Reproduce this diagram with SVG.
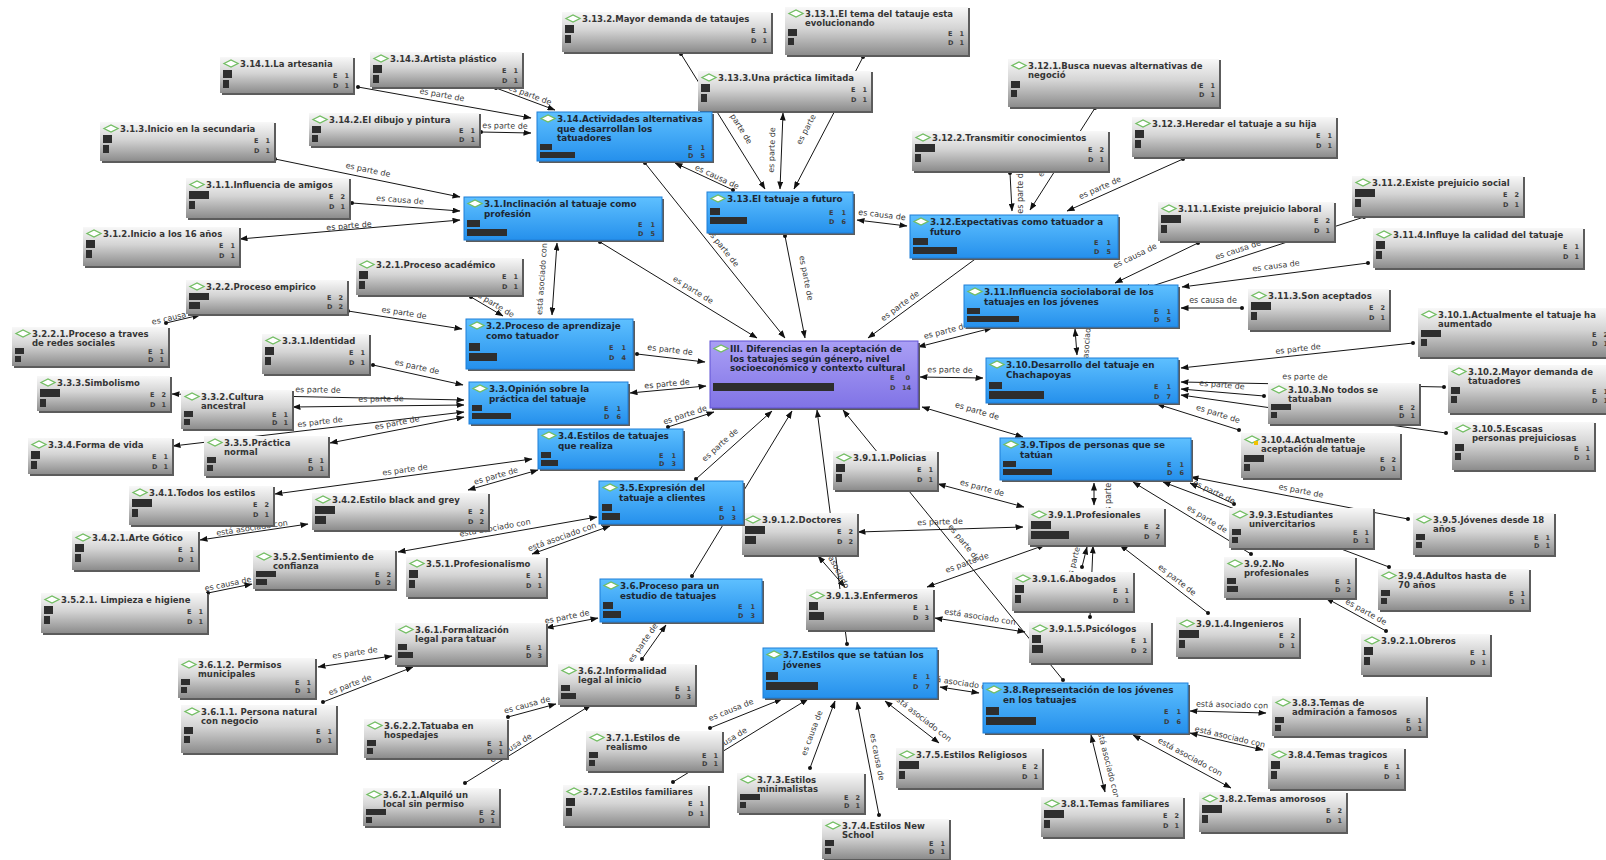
<svg xmlns="http://www.w3.org/2000/svg" width="1606" height="860" viewBox="0 0 1606 860">
<defs>
<linearGradient id="gg" x1="0" y1="0" x2="0" y2="1"><stop offset="0" stop-color="#f8f8f8"/><stop offset="0.45" stop-color="#d4d4d4"/><stop offset="1" stop-color="#8c8c8c"/></linearGradient>
<linearGradient id="bgr" x1="0" y1="0" x2="0" y2="1"><stop offset="0" stop-color="#5ec0ff"/><stop offset="1" stop-color="#2590ec"/></linearGradient>
<linearGradient id="pgr" x1="0" y1="0" x2="0" y2="1"><stop offset="0" stop-color="#aa9ff5"/><stop offset="1" stop-color="#8073e6"/></linearGradient>
<marker id="ar" viewBox="0 0 8 6" refX="7.5" refY="3" markerWidth="8" markerHeight="6" markerUnits="userSpaceOnUse" orient="auto-start-reverse"><path d="M0,0 L8,3 L0,6 z" fill="#111"/></marker>
<marker id="dt" viewBox="0 0 4 4" refX="2" refY="2" markerWidth="4" markerHeight="4" markerUnits="userSpaceOnUse"><circle cx="2" cy="2" r="2" fill="#111"/></marker>
<path id="dmd" class="dm" d="M4,6.5L11,3L18,6.5L11,10Z"/>
</defs>
<style>
.sh{fill:#5c5c5c}
.g{fill:url(#gg)}
.b{fill:url(#bgr);stroke:#1f7fd8;stroke-width:1}
.p{fill:url(#pgr);stroke:#6152d4;stroke-width:1}
.dm{fill:#fff;stroke:#72bd62;stroke-width:1.3}
.t{font-family:"DejaVu Sans","Liberation Sans",sans-serif;font-weight:bold;font-size:8.5px;fill:#353535}
.tb{font-size:8.8px;fill:#1d2733}
.bar{fill:#2e2e2e}
.ed{font-family:"DejaVu Sans","Liberation Sans",sans-serif;font-weight:bold;font-size:6.5px;fill:#3c3c3c}
.n{text-anchor:end}
.e{fill:none;stroke:#151515;stroke-width:1}
.da{marker-start:url(#dt);marker-end:url(#ar)}
.aa{marker-start:url(#ar);marker-end:url(#ar)}
.ad{marker-start:url(#ar);marker-end:url(#dt)}
.l{font-family:"DejaVu Sans","Liberation Sans",sans-serif;font-size:8px;fill:#3a3a3a;text-anchor:middle}
</style>
<rect width="1606" height="860" fill="#fff"/>
<g id="connectors">
<path class="e da" d="M358,87 L531,118"/>
<path class="e da" d="M496,88 L555,110"/>
<path class="e da" d="M481,132 L531,133"/>
<path class="e da" d="M733,190 L675,163"/>
<path class="e da" d="M645,163 L785,338"/>
<path class="e da" d="M681,54 L765,189"/>
<path class="e aa" d="M783,113 L780,189"/>
<path class="e da" d="M863,57 L794,189"/>
<path class="e da" d="M785,236 L805,338"/>
<path class="e aa" d="M857,220 L907,226"/>
<path class="e da" d="M600,242 L757,338"/>
<path class="e da" d="M275,159 L460,197"/>
<path class="e da" d="M352,203 L460,211"/>
<path class="e aa" d="M460,220 L240,239"/>
<path class="e aa" d="M557,243 L552,315"/>
<path class="e da" d="M471,297 L503,316"/>
<path class="e da" d="M348,311 L462,329"/>
<path class="e da" d="M166,323 L200,315"/>
<path class="e da" d="M373,365 L463,385"/>
<path class="e aa" d="M464,400 L172,394"/>
<path class="e aa" d="M464,405 L293,407"/>
<path class="e aa" d="M464,412 L173,446"/>
<path class="e aa" d="M464,417 L330,443"/>
<path class="e aa" d="M630,393 L706,386"/>
<path class="e da" d="M637,354 L705,362"/>
<path class="e aa" d="M275,494 L532,459"/>
<path class="e aa" d="M468,490 L538,470"/>
<path class="e aa" d="M200,540 L308,524"/>
<path class="e da" d="M668,427 L714,412"/>
<path class="e da" d="M696,479 L772,411"/>
<path class="e da" d="M692,576 L792,411"/>
<path class="e aa" d="M398,552 L597,517"/>
<path class="e aa" d="M532,554 L610,526"/>
<path class="e da" d="M208,593 L252,584"/>
<path class="e aa" d="M546,628 L598,618"/>
<path class="e da" d="M642,659 L666,625"/>
<path class="e aa" d="M318,667 L392,656"/>
<path class="e da" d="M323,702 L413,667"/>
<path class="e da" d="M508,717 L556,704"/>
<path class="e da" d="M465,783 L591,705"/>
<path class="e da" d="M710,728 L782,699"/>
<path class="e da" d="M673,782 L808,699"/>
<path class="e da" d="M810,768 L835,701"/>
<path class="e da" d="M879,815 L857,702"/>
<path class="e aa" d="M939,743 L885,701"/>
<path class="e aa" d="M940,687 L979,693"/>
<path class="e da" d="M847,644 L817,410"/>
<path class="e da" d="M1063,680 L843,410"/>
<path class="e aa" d="M1105,792 L1091,735"/>
<path class="e aa" d="M1231,788 L1133,735"/>
<path class="e aa" d="M1263,750 L1190,733"/>
<path class="e aa" d="M1266,713 L1190,711"/>
<path class="e aa" d="M922,407 L1023,437"/>
<path class="e aa" d="M1094,505 L1094,483"/>
<path class="e aa" d="M938,484 L1024,507"/>
<path class="e aa" d="M858,532 L1023,527"/>
<path class="e aa" d="M927,587 L1045,545"/>
<path class="e da" d="M1082,567 L1087,547"/>
<path class="e da" d="M1090,617 L1093,546"/>
<path class="e ad" d="M1120,545 L1208,613"/>
<path class="e ad" d="M1133,482 L1251,554"/>
<path class="e ad" d="M1190,483 L1234,504"/>
<path class="e ad" d="M1163,482 L1389,567"/>
<path class="e ad" d="M1191,477 L1408,519"/>
<path class="e ad" d="M1326,598 L1386,631"/>
<path class="e aa" d="M920,377 L983,378"/>
<path class="e aa" d="M1075,329 L1077,355"/>
<path class="e ad" d="M1181,368 L1413,343"/>
<path class="e ad" d="M1181,382 L1444,387"/>
<path class="e ad" d="M1181,389 L1264,396"/>
<path class="e ad" d="M1181,395 L1446,433"/>
<path class="e ad" d="M1157,404 L1239,430"/>
<path class="e aa" d="M918,347 L992,328"/>
<path class="e ad" d="M1181,308 L1242,308"/>
<path class="e da" d="M1198,243 L1115,283"/>
<path class="e da" d="M1364,217 L1143,289"/>
<path class="e da" d="M1368,263 L1182,287"/>
<path class="e ad" d="M868,338 L978,257"/>
<path class="e da" d="M1010,173 L1012,211"/>
<path class="e da" d="M1095,108 L1030,210"/>
<path class="e da" d="M1183,159 L1067,211"/>
<path class="e aa" d="M818,556 L845,587"/>
<path class="e aa" d="M935,618 L1025,632"/>
<g id="connector-labels">
<text class="l" transform="translate(442,95) rotate(10.2)" y="2.5">es parte de</text>
<text class="l" transform="translate(530,95) rotate(20.4)" y="2.5">es parte de</text>
<text class="l" transform="translate(505,126) rotate(1.1)" y="2.5">es parte de</text>
<text class="l" transform="translate(717,177) rotate(25)" y="2.5">es causa de</text>
<text class="l" transform="translate(723,248) rotate(51.3)" y="2.5">es parte de</text>
<text class="l" transform="translate(738,124) rotate(58)" y="2.5">es parte de</text>
<text class="l" transform="translate(772,150) rotate(-88)" y="2.5">es parte de</text>
<text class="l" transform="translate(809,124) rotate(-62.4)" y="2.5">es parte de</text>
<text class="l" transform="translate(806,278) rotate(78.9)" y="2.5">es parte de</text>
<text class="l" transform="translate(882,215) rotate(6.8)" y="2.5">es causa de</text>
<text class="l" transform="translate(693,290) rotate(31.4)" y="2.5">es parte de</text>
<text class="l" transform="translate(368,170) rotate(11.6)" y="2.5">es parte de</text>
<text class="l" transform="translate(400,200) rotate(4.2)" y="2.5">es causa de</text>
<text class="l" transform="translate(349,226) rotate(-4.9)" y="2.5">es parte de</text>
<text class="l" transform="translate(542,279) rotate(-86)" y="2.5">está asociado con</text>
<text class="l" transform="translate(494,304) rotate(30.7)" y="2.5">es parte de</text>
<text class="l" transform="translate(404,313) rotate(9)" y="2.5">es parte de</text>
<text class="l" transform="translate(175,317) rotate(-13)" y="2.5">es causa de</text>
<text class="l" transform="translate(417,367) rotate(12.5)" y="2.5">es parte de</text>
<text class="l" transform="translate(318,390) rotate(1.2)" y="2.5">es parte de</text>
<text class="l" transform="translate(381,399) rotate(-0.7)" y="2.5">es parte de</text>
<text class="l" transform="translate(320,422) rotate(-6.7)" y="2.5">es parte de</text>
<text class="l" transform="translate(397,423) rotate(-11)" y="2.5">es parte de</text>
<text class="l" transform="translate(667,384) rotate(-5.3)" y="2.5">es parte de</text>
<text class="l" transform="translate(670,350) rotate(6.7)" y="2.5">es parte de</text>
<text class="l" transform="translate(405,470) rotate(-7.8)" y="2.5">es parte de</text>
<text class="l" transform="translate(496,476) rotate(-16)" y="2.5">es parte de</text>
<text class="l" transform="translate(252,528) rotate(-8.4)" y="2.5">está asociado con</text>
<text class="l" transform="translate(685,415) rotate(-18)" y="2.5">es parte de</text>
<text class="l" transform="translate(720,445) rotate(-41.8)" y="2.5">es parte de</text>
<text class="l" transform="translate(495,528) rotate(-10)" y="2.5">está asociado con</text>
<text class="l" transform="translate(562,537) rotate(-19.7)" y="2.5">está asociado con</text>
<text class="l" transform="translate(228,584) rotate(-11.6)" y="2.5">es causa de</text>
<text class="l" transform="translate(567,617) rotate(-10.9)" y="2.5">es parte de</text>
<text class="l" transform="translate(643,643) rotate(-54.8)" y="2.5">es parte de</text>
<text class="l" transform="translate(355,653) rotate(-8.5)" y="2.5">es parte de</text>
<text class="l" transform="translate(350,685) rotate(-21)" y="2.5">es parte de</text>
<text class="l" transform="translate(527,705) rotate(-15)" y="2.5">es causa de</text>
<text class="l" transform="translate(511,748) rotate(-31.8)" y="2.5">es causa de</text>
<text class="l" transform="translate(731,710) rotate(-22)" y="2.5">es causa de</text>
<text class="l" transform="translate(726,742) rotate(-31.6)" y="2.5">es causa de</text>
<text class="l" transform="translate(812,733) rotate(-69.5)" y="2.5">es causa de</text>
<text class="l" transform="translate(877,757) rotate(79)" y="2.5">es causa de</text>
<text class="l" transform="translate(922,718) rotate(37.9)" y="2.5">está asociado con</text>
<text class="l" transform="translate(960,683) rotate(8.7)" y="2.5">está asociado con</text>
<text class="l" transform="translate(964,543) rotate(50.8)" y="2.5">es parte de</text>
<text class="l" transform="translate(1108,763) rotate(76)" y="2.5">está asociado con</text>
<text class="l" transform="translate(1190,757) rotate(28.4)" y="2.5">está asociado con</text>
<text class="l" transform="translate(1230,737) rotate(13)" y="2.5">está asociado con</text>
<text class="l" transform="translate(1232,705) rotate(1.5)" y="2.5">está asociado con</text>
<text class="l" transform="translate(977,411) rotate(16.5)" y="2.5">es parte de</text>
<text class="l" transform="translate(1108,493) rotate(-90)" y="2.5">es parte de</text>
<text class="l" transform="translate(982,488) rotate(15)" y="2.5">es parte de</text>
<text class="l" transform="translate(940,522) rotate(-1.7)" y="2.5">es parte de</text>
<text class="l" transform="translate(967,563) rotate(-19.6)" y="2.5">es parte de</text>
<text class="l" transform="translate(1075,557) rotate(-76)" y="2.5">es parte de</text>
<text class="l" transform="translate(1177,580) rotate(37.7)" y="2.5">es parte de</text>
<text class="l" transform="translate(1207,519) rotate(31.4)" y="2.5">es parte de</text>
<text class="l" transform="translate(1214,492) rotate(25.5)" y="2.5">es parte de</text>
<text class="l" transform="translate(1301,491) rotate(11)" y="2.5">es parte de</text>
<text class="l" transform="translate(1366,612) rotate(28.8)" y="2.5">es parte de</text>
<text class="l" transform="translate(950,370) rotate(0.9)" y="2.5">es parte de</text>
<text class="l" transform="translate(1087,342) rotate(-86)" y="2.5">está asociado con</text>
<text class="l" transform="translate(1298,349) rotate(-6.2)" y="2.5">es parte de</text>
<text class="l" transform="translate(1305,377) rotate(1.1)" y="2.5">es parte de</text>
<text class="l" transform="translate(1222,385) rotate(4.8)" y="2.5">es parte de</text>
<text class="l" transform="translate(1218,414) rotate(17.6)" y="2.5">es parte de</text>
<text class="l" transform="translate(946,331) rotate(-14.4)" y="2.5">es parte de</text>
<text class="l" transform="translate(1213,300)" y="2.5">es causa de</text>
<text class="l" transform="translate(1135,256) rotate(-25.7)" y="2.5">es causa de</text>
<text class="l" transform="translate(1238,250) rotate(-18)" y="2.5">es causa de</text>
<text class="l" transform="translate(1276,266) rotate(-7.4)" y="2.5">es causa de</text>
<text class="l" transform="translate(900,306) rotate(-36.4)" y="2.5">es parte de</text>
<text class="l" transform="translate(1020,191) rotate(-90)" y="2.5">es parte de</text>
<text class="l" transform="translate(1052,157) rotate(-57.5)" y="2.5">es parte de</text>
<text class="l" transform="translate(1100,188) rotate(-24)" y="2.5">es parte de</text>
<text class="l" transform="translate(838,571) rotate(62)" y="2.5">está asociado con</text>
<text class="l" transform="translate(980,617) rotate(8.8)" y="2.5">está asociado con</text>
</g>
</g>

<g id="n3-14-1" transform="translate(220,57)"><rect class="sh" x="2" y="1" width="133" height="37"/><rect class="g" width="133" height="36"/><use href="#dmd"/><text class="t" x="20" y="10">3.14.1.La artesania</text><rect class="bar" x="3" y="13" width="9" height="8"/><rect class="bar" x="3" y="23" width="6" height="8"/><text class="ed" x="113" y="20.5">E</text><text class="ed n" x="129" y="20.5">1</text><text class="ed" x="113" y="30.5">D</text><text class="ed n" x="129" y="30.5">1</text></g>
<g id="n3-14-3" transform="translate(370,52)"><rect class="sh" x="2" y="1" width="152" height="36"/><rect class="g" width="152" height="35"/><use href="#dmd"/><text class="t" x="20" y="10">3.14.3.Artista plástico</text><rect class="bar" x="3" y="13" width="9" height="8"/><rect class="bar" x="3" y="23" width="6" height="8"/><text class="ed" x="132" y="20.5">E</text><text class="ed n" x="148" y="20.5">1</text><text class="ed" x="132" y="30.5">D</text><text class="ed n" x="148" y="30.5">1</text></g>
<g id="n3-14-2" transform="translate(309,113)"><rect class="sh" x="2" y="1" width="170" height="34"/><rect class="g" width="170" height="33"/><use href="#dmd"/><text class="t" x="20" y="10">3.14.2.El dibujo y pintura</text><rect class="bar" x="3" y="13" width="9" height="7"/><rect class="bar" x="3" y="22" width="6" height="7"/><text class="ed" x="150" y="19.5">E</text><text class="ed n" x="166" y="19.5">1</text><text class="ed" x="150" y="28.5">D</text><text class="ed n" x="166" y="28.5">1</text></g>
<g id="n3-13-2" transform="translate(562,12)"><rect class="sh" x="2" y="1" width="209" height="41"/><rect class="g" width="209" height="40"/><use href="#dmd"/><text class="t" x="20" y="10">3.13.2.Mayor demanda de tataujes</text><rect class="bar" x="3" y="13" width="9" height="8"/><rect class="bar" x="3" y="23" width="6" height="8"/><text class="ed" x="189" y="20.5">E</text><text class="ed n" x="205" y="20.5">1</text><text class="ed" x="189" y="30.5">D</text><text class="ed n" x="205" y="30.5">1</text></g>
<g id="n3-13-1" transform="translate(785,7)"><rect class="sh" x="2" y="1" width="183" height="49"/><rect class="g" width="183" height="48"/><use href="#dmd"/><text class="t" x="20" y="10">3.13.1.El tema del tatauje esta<tspan x="20" y="19">evolucionando</tspan></text><rect class="bar" x="3" y="22" width="9" height="7"/><rect class="bar" x="3" y="31" width="6" height="7"/><text class="ed" x="163" y="28.5">E</text><text class="ed n" x="179" y="28.5">1</text><text class="ed" x="163" y="37.5">D</text><text class="ed n" x="179" y="37.5">1</text></g>
<g id="n3-13-3" transform="translate(698,71)"><rect class="sh" x="2" y="1" width="173" height="41"/><rect class="g" width="173" height="40"/><use href="#dmd"/><text class="t" x="20" y="10">3.13.3.Una práctica limitada</text><rect class="bar" x="3" y="13" width="9" height="8"/><rect class="bar" x="3" y="23" width="6" height="8"/><text class="ed" x="153" y="20.5">E</text><text class="ed n" x="169" y="20.5">1</text><text class="ed" x="153" y="30.5">D</text><text class="ed n" x="169" y="30.5">1</text></g>
<g id="n3-12-1" transform="translate(1008,59)"><rect class="sh" x="2" y="1" width="211" height="49"/><rect class="g" width="211" height="48"/><use href="#dmd"/><text class="t" x="20" y="10">3.12.1.Busca nuevas alternativas de<tspan x="20" y="19">negoció</tspan></text><rect class="bar" x="3" y="22" width="9" height="7"/><rect class="bar" x="3" y="31" width="6" height="7"/><text class="ed" x="191" y="28.5">E</text><text class="ed n" x="207" y="28.5">1</text><text class="ed" x="191" y="37.5">D</text><text class="ed n" x="207" y="37.5">1</text></g>
<g id="n3-12-2" transform="translate(912,131)"><rect class="sh" x="2" y="1" width="196" height="41"/><rect class="g" width="196" height="40"/><use href="#dmd"/><text class="t" x="20" y="10">3.12.2.Transmitir conocimientos</text><rect class="bar" x="3" y="13" width="20" height="8"/><rect class="bar" x="3" y="23" width="6" height="8"/><text class="ed" x="176" y="20.5">E</text><text class="ed n" x="192" y="20.5">2</text><text class="ed" x="176" y="30.5">D</text><text class="ed n" x="192" y="30.5">1</text></g>
<g id="n3-12-3" transform="translate(1132,117)"><rect class="sh" x="2" y="1" width="204" height="41"/><rect class="g" width="204" height="40"/><use href="#dmd"/><text class="t" x="20" y="10">3.12.3.Heredar el tatuaje a su hija</text><rect class="bar" x="3" y="13" width="9" height="8"/><rect class="bar" x="3" y="23" width="6" height="8"/><text class="ed" x="184" y="20.5">E</text><text class="ed n" x="200" y="20.5">1</text><text class="ed" x="184" y="30.5">D</text><text class="ed n" x="200" y="30.5">1</text></g>
<g id="n3-11-1" transform="translate(1158,202)"><rect class="sh" x="2" y="1" width="176" height="40"/><rect class="g" width="176" height="39"/><use href="#dmd"/><text class="t" x="20" y="10">3.11.1.Existe prejuicio laboral</text><rect class="bar" x="3" y="13" width="20" height="8"/><rect class="bar" x="3" y="23" width="6" height="8"/><text class="ed" x="156" y="20.5">E</text><text class="ed n" x="172" y="20.5">2</text><text class="ed" x="156" y="30.5">D</text><text class="ed n" x="172" y="30.5">1</text></g>
<g id="n3-11-2" transform="translate(1352,176)"><rect class="sh" x="2" y="1" width="171" height="41"/><rect class="g" width="171" height="40"/><use href="#dmd"/><text class="t" x="20" y="10">3.11.2.Existe prejuicio social</text><rect class="bar" x="3" y="13" width="20" height="8"/><rect class="bar" x="3" y="23" width="6" height="8"/><text class="ed" x="151" y="20.5">E</text><text class="ed n" x="167" y="20.5">2</text><text class="ed" x="151" y="30.5">D</text><text class="ed n" x="167" y="30.5">1</text></g>
<g id="n3-11-4" transform="translate(1373,228)"><rect class="sh" x="2" y="1" width="210" height="41"/><rect class="g" width="210" height="40"/><use href="#dmd"/><text class="t" x="20" y="10">3.11.4.Influye la calidad del tatuaje</text><rect class="bar" x="3" y="13" width="9" height="8"/><rect class="bar" x="3" y="23" width="6" height="8"/><text class="ed" x="190" y="20.5">E</text><text class="ed n" x="206" y="20.5">1</text><text class="ed" x="190" y="30.5">D</text><text class="ed n" x="206" y="30.5">1</text></g>
<g id="n3-11-3" transform="translate(1248,289)"><rect class="sh" x="2" y="1" width="141" height="42"/><rect class="g" width="141" height="41"/><use href="#dmd"/><text class="t" x="20" y="10">3.11.3.Son aceptados</text><rect class="bar" x="3" y="13" width="20" height="8"/><rect class="bar" x="3" y="23" width="6" height="8"/><text class="ed" x="121" y="20.5">E</text><text class="ed n" x="137" y="20.5">2</text><text class="ed" x="121" y="30.5">D</text><text class="ed n" x="137" y="30.5">1</text></g>
<g id="n3-10-1" transform="translate(1418,308)"><rect class="sh" x="2" y="1" width="194" height="50"/><rect class="g" width="194" height="49"/><use href="#dmd"/><text class="t" x="20" y="10">3.10.1.Actualmente el tatuaje ha<tspan x="20" y="19">aumentado</tspan></text><rect class="bar" x="3" y="22" width="20" height="7"/><rect class="bar" x="3" y="31" width="6" height="7"/><text class="ed" x="174" y="28.5">E</text><text class="ed n" x="190" y="28.5">2</text><text class="ed" x="174" y="37.5">D</text><text class="ed n" x="190" y="37.5">1</text></g>
<g id="n3-10-2" transform="translate(1448,365)"><rect class="sh" x="2" y="1" width="164" height="49"/><rect class="g" width="164" height="48"/><use href="#dmd"/><text class="t" x="20" y="10">3.10.2.Mayor demanda de<tspan x="20" y="19">tatuadores</tspan></text><rect class="bar" x="3" y="22" width="9" height="7"/><rect class="bar" x="3" y="31" width="6" height="7"/><text class="ed" x="144" y="28.5">E</text><text class="ed n" x="160" y="28.5">1</text><text class="ed" x="144" y="37.5">D</text><text class="ed n" x="160" y="37.5">1</text></g>
<g id="n3-10-3" transform="translate(1268,383)"><rect class="sh" x="2" y="1" width="151" height="42"/><rect class="g" width="151" height="41"/><use href="#dmd"/><text class="t" x="20" y="10">3.10.3.No todos se<tspan x="20" y="19">tatuaban</tspan></text><rect class="bar" x="3" y="21" width="20" height="6"/><rect class="bar" x="3" y="29" width="6" height="6"/><text class="ed" x="131" y="26.5">E</text><text class="ed n" x="147" y="26.5">2</text><text class="ed" x="131" y="34.5">D</text><text class="ed n" x="147" y="34.5">1</text></g>
<g id="n3-10-5" transform="translate(1452,422)"><rect class="sh" x="2" y="1" width="142" height="49"/><rect class="g" width="142" height="48"/><use href="#dmd"/><text class="t" x="20" y="10">3.10.5.Escasas<tspan x="20" y="19">personas prejuiciosas</tspan></text><rect class="bar" x="3" y="22" width="9" height="7"/><rect class="bar" x="3" y="31" width="6" height="7"/><text class="ed" x="122" y="28.5">E</text><text class="ed n" x="138" y="28.5">1</text><text class="ed" x="122" y="37.5">D</text><text class="ed n" x="138" y="37.5">1</text></g>
<g id="n3-10-4" transform="translate(1241,433)"><rect class="sh" x="2" y="1" width="159" height="46"/><rect class="g" width="159" height="45"/><use href="#dmd"/><rect x="13" y="8" width="4" height="4" fill="#f2c200"/><text class="t" x="20" y="10">3.10.4.Actualmente<tspan x="20" y="19">aceptación de tatuaje</tspan></text><rect class="bar" x="3" y="22" width="20" height="7"/><rect class="bar" x="3" y="31" width="6" height="7"/><text class="ed" x="139" y="28.5">E</text><text class="ed n" x="155" y="28.5">2</text><text class="ed" x="139" y="37.5">D</text><text class="ed n" x="155" y="37.5">1</text></g>
<g id="n3-9-3" transform="translate(1229,508)"><rect class="sh" x="2" y="1" width="144" height="41"/><rect class="g" width="144" height="40"/><use href="#dmd"/><text class="t" x="20" y="10">3.9.3.Estudiantes<tspan x="20" y="19">univercitarios</tspan></text><rect class="bar" x="3" y="21" width="9" height="6"/><rect class="bar" x="3" y="29" width="6" height="6"/><text class="ed" x="124" y="26.5">E</text><text class="ed n" x="140" y="26.5">1</text><text class="ed" x="124" y="34.5">D</text><text class="ed n" x="140" y="34.5">1</text></g>
<g id="n3-9-5" transform="translate(1413,513)"><rect class="sh" x="2" y="1" width="141" height="43"/><rect class="g" width="141" height="42"/><use href="#dmd"/><text class="t" x="20" y="10">3.9.5.Jóvenes desde 18<tspan x="20" y="19">años</tspan></text><rect class="bar" x="3" y="21" width="9" height="6"/><rect class="bar" x="3" y="29" width="6" height="6"/><text class="ed" x="121" y="26.5">E</text><text class="ed n" x="137" y="26.5">1</text><text class="ed" x="121" y="34.5">D</text><text class="ed n" x="137" y="34.5">1</text></g>
<g id="n3-9-2" transform="translate(1224,557)"><rect class="sh" x="2" y="1" width="131" height="42"/><rect class="g" width="131" height="41"/><use href="#dmd"/><text class="t" x="20" y="10">3.9.2.No<tspan x="20" y="19">profesionales</tspan></text><rect class="bar" x="3" y="21" width="9" height="6"/><rect class="bar" x="3" y="29" width="11" height="6"/><text class="ed" x="111" y="26.5">E</text><text class="ed n" x="127" y="26.5">1</text><text class="ed" x="111" y="34.5">D</text><text class="ed n" x="127" y="34.5">2</text></g>
<g id="n3-9-4" transform="translate(1378,569)"><rect class="sh" x="2" y="1" width="151" height="42"/><rect class="g" width="151" height="41"/><use href="#dmd"/><text class="t" x="20" y="10">3.9.4.Adultos hasta de<tspan x="20" y="19">70 años</tspan></text><rect class="bar" x="3" y="21" width="9" height="6"/><rect class="bar" x="3" y="29" width="6" height="6"/><text class="ed" x="131" y="26.5">E</text><text class="ed n" x="147" y="26.5">1</text><text class="ed" x="131" y="34.5">D</text><text class="ed n" x="147" y="34.5">1</text></g>
<g id="n3-9-1-4" transform="translate(1176,617)"><rect class="sh" x="2" y="1" width="123" height="41"/><rect class="g" width="123" height="40"/><use href="#dmd"/><text class="t" x="20" y="10">3.9.1.4.Ingenieros</text><rect class="bar" x="3" y="13" width="20" height="8"/><rect class="bar" x="3" y="23" width="6" height="8"/><text class="ed" x="103" y="20.5">E</text><text class="ed n" x="119" y="20.5">2</text><text class="ed" x="103" y="30.5">D</text><text class="ed n" x="119" y="30.5">1</text></g>
<g id="n3-9-2-1" transform="translate(1361,634)"><rect class="sh" x="2" y="1" width="129" height="42"/><rect class="g" width="129" height="41"/><use href="#dmd"/><text class="t" x="20" y="10">3.9.2.1.Obreros</text><rect class="bar" x="3" y="13" width="9" height="8"/><rect class="bar" x="3" y="23" width="6" height="8"/><text class="ed" x="109" y="20.5">E</text><text class="ed n" x="125" y="20.5">1</text><text class="ed" x="109" y="30.5">D</text><text class="ed n" x="125" y="30.5">1</text></g>
<g id="n3-8-3" transform="translate(1272,696)"><rect class="sh" x="2" y="1" width="154" height="41"/><rect class="g" width="154" height="40"/><use href="#dmd"/><text class="t" x="20" y="10">3.8.3.Temas de<tspan x="20" y="19">admiración a famosos</tspan></text><rect class="bar" x="3" y="21" width="9" height="6"/><rect class="bar" x="3" y="29" width="6" height="6"/><text class="ed" x="134" y="26.5">E</text><text class="ed n" x="150" y="26.5">1</text><text class="ed" x="134" y="34.5">D</text><text class="ed n" x="150" y="34.5">1</text></g>
<g id="n3-8-4" transform="translate(1268,748)"><rect class="sh" x="2" y="1" width="136" height="42"/><rect class="g" width="136" height="41"/><use href="#dmd"/><text class="t" x="20" y="10">3.8.4.Temas tragicos</text><rect class="bar" x="3" y="13" width="9" height="8"/><rect class="bar" x="3" y="23" width="6" height="8"/><text class="ed" x="116" y="20.5">E</text><text class="ed n" x="132" y="20.5">1</text><text class="ed" x="116" y="30.5">D</text><text class="ed n" x="132" y="30.5">1</text></g>
<g id="n3-8-2" transform="translate(1199,792)"><rect class="sh" x="2" y="1" width="147" height="41"/><rect class="g" width="147" height="40"/><use href="#dmd"/><text class="t" x="20" y="10">3.8.2.Temas amorosos</text><rect class="bar" x="3" y="13" width="20" height="8"/><rect class="bar" x="3" y="23" width="6" height="8"/><text class="ed" x="127" y="20.5">E</text><text class="ed n" x="143" y="20.5">2</text><text class="ed" x="127" y="30.5">D</text><text class="ed n" x="143" y="30.5">1</text></g>
<g id="n3-8-1" transform="translate(1041,797)"><rect class="sh" x="2" y="1" width="142" height="41"/><rect class="g" width="142" height="40"/><use href="#dmd"/><text class="t" x="20" y="10">3.8.1.Temas familiares</text><rect class="bar" x="3" y="13" width="20" height="8"/><rect class="bar" x="3" y="23" width="6" height="8"/><text class="ed" x="122" y="20.5">E</text><text class="ed n" x="138" y="20.5">2</text><text class="ed" x="122" y="30.5">D</text><text class="ed n" x="138" y="30.5">1</text></g>
<g id="n3-9-1-1" transform="translate(833,451)"><rect class="sh" x="2" y="1" width="104" height="40"/><rect class="g" width="104" height="39"/><use href="#dmd"/><text class="t" x="20" y="10">3.9.1.1.Policias</text><rect class="bar" x="3" y="13" width="9" height="8"/><rect class="bar" x="3" y="23" width="6" height="8"/><text class="ed" x="84" y="20.5">E</text><text class="ed n" x="100" y="20.5">1</text><text class="ed" x="84" y="30.5">D</text><text class="ed n" x="100" y="30.5">1</text></g>
<g id="n3-9-1" transform="translate(1028,508)"><rect class="sh" x="2" y="1" width="136" height="38"/><rect class="g" width="136" height="37"/><use href="#dmd"/><text class="t" x="20" y="10">3.9.1.Profesionales</text><rect class="bar" x="3" y="13" width="20" height="8"/><rect class="bar" x="3" y="23" width="38" height="8"/><text class="ed" x="116" y="20.5">E</text><text class="ed n" x="132" y="20.5">2</text><text class="ed" x="116" y="30.5">D</text><text class="ed n" x="132" y="30.5">7</text></g>
<g id="n3-9-1-2" transform="translate(742,513)"><rect class="sh" x="2" y="1" width="115" height="43"/><rect class="g" width="115" height="42"/><use href="#dmd"/><text class="t" x="20" y="10">3.9.1.2.Doctores</text><rect class="bar" x="3" y="13" width="20" height="8"/><rect class="bar" x="3" y="23" width="11" height="8"/><text class="ed" x="95" y="20.5">E</text><text class="ed n" x="111" y="20.5">2</text><text class="ed" x="95" y="30.5">D</text><text class="ed n" x="111" y="30.5">2</text></g>
<g id="n3-9-1-6" transform="translate(1012,572)"><rect class="sh" x="2" y="1" width="121" height="40"/><rect class="g" width="121" height="39"/><use href="#dmd"/><text class="t" x="20" y="10">3.9.1.6.Abogados</text><rect class="bar" x="3" y="13" width="9" height="8"/><rect class="bar" x="3" y="23" width="6" height="8"/><text class="ed" x="101" y="20.5">E</text><text class="ed n" x="117" y="20.5">1</text><text class="ed" x="101" y="30.5">D</text><text class="ed n" x="117" y="30.5">1</text></g>
<g id="n3-9-1-3" transform="translate(806,589)"><rect class="sh" x="2" y="1" width="127" height="42"/><rect class="g" width="127" height="41"/><use href="#dmd"/><text class="t" x="20" y="10">3.9.1.3.Enfermeros</text><rect class="bar" x="3" y="13" width="9" height="8"/><rect class="bar" x="3" y="23" width="15" height="8"/><text class="ed" x="107" y="20.5">E</text><text class="ed n" x="123" y="20.5">1</text><text class="ed" x="107" y="30.5">D</text><text class="ed n" x="123" y="30.5">3</text></g>
<g id="n3-9-1-5" transform="translate(1029,622)"><rect class="sh" x="2" y="1" width="122" height="42"/><rect class="g" width="122" height="41"/><use href="#dmd"/><text class="t" x="20" y="10">3.9.1.5.Psicólogos</text><rect class="bar" x="3" y="13" width="9" height="8"/><rect class="bar" x="3" y="23" width="11" height="8"/><text class="ed" x="102" y="20.5">E</text><text class="ed n" x="118" y="20.5">1</text><text class="ed" x="102" y="30.5">D</text><text class="ed n" x="118" y="30.5">2</text></g>
<g id="n3-7-5" transform="translate(896,748)"><rect class="sh" x="2" y="1" width="146" height="41"/><rect class="g" width="146" height="40"/><use href="#dmd"/><text class="t" x="20" y="10">3.7.5.Estilos Religiosos</text><rect class="bar" x="3" y="13" width="20" height="8"/><rect class="bar" x="3" y="23" width="6" height="8"/><text class="ed" x="126" y="20.5">E</text><text class="ed n" x="142" y="20.5">2</text><text class="ed" x="126" y="30.5">D</text><text class="ed n" x="142" y="30.5">1</text></g>
<g id="n3-7-4" transform="translate(822,819)"><rect class="sh" x="2" y="1" width="127" height="41"/><rect class="g" width="127" height="40"/><use href="#dmd"/><text class="t" x="20" y="10">3.7.4.Estilos New<tspan x="20" y="19">School</tspan></text><rect class="bar" x="3" y="21" width="9" height="6"/><rect class="bar" x="3" y="29" width="6" height="6"/><text class="ed" x="107" y="26.5">E</text><text class="ed n" x="123" y="26.5">1</text><text class="ed" x="107" y="34.5">D</text><text class="ed n" x="123" y="34.5">1</text></g>
<g id="n3-7-3" transform="translate(737,773)"><rect class="sh" x="2" y="1" width="127" height="41"/><rect class="g" width="127" height="40"/><use href="#dmd"/><text class="t" x="20" y="10">3.7.3.Estilos<tspan x="20" y="19">minimalistas</tspan></text><rect class="bar" x="3" y="21" width="20" height="6"/><rect class="bar" x="3" y="29" width="6" height="6"/><text class="ed" x="107" y="26.5">E</text><text class="ed n" x="123" y="26.5">2</text><text class="ed" x="107" y="34.5">D</text><text class="ed n" x="123" y="34.5">1</text></g>
<g id="n3-7-1" transform="translate(586,731)"><rect class="sh" x="2" y="1" width="136" height="41"/><rect class="g" width="136" height="40"/><use href="#dmd"/><text class="t" x="20" y="10">3.7.1.Estilos de<tspan x="20" y="19">realismo</tspan></text><rect class="bar" x="3" y="21" width="9" height="6"/><rect class="bar" x="3" y="29" width="6" height="6"/><text class="ed" x="116" y="26.5">E</text><text class="ed n" x="132" y="26.5">1</text><text class="ed" x="116" y="34.5">D</text><text class="ed n" x="132" y="34.5">1</text></g>
<g id="n3-7-2" transform="translate(563,785)"><rect class="sh" x="2" y="1" width="145" height="42"/><rect class="g" width="145" height="41"/><use href="#dmd"/><text class="t" x="20" y="10">3.7.2.Estilos familiares</text><rect class="bar" x="3" y="13" width="9" height="8"/><rect class="bar" x="3" y="23" width="6" height="8"/><text class="ed" x="125" y="20.5">E</text><text class="ed n" x="141" y="20.5">1</text><text class="ed" x="125" y="30.5">D</text><text class="ed n" x="141" y="30.5">1</text></g>
<g id="n3-6-2" transform="translate(558,664)"><rect class="sh" x="2" y="1" width="137" height="42"/><rect class="g" width="137" height="41"/><use href="#dmd"/><text class="t" x="20" y="10">3.6.2.Informalidad<tspan x="20" y="19">legal al inicio</tspan></text><rect class="bar" x="3" y="21" width="9" height="6"/><rect class="bar" x="3" y="29" width="15" height="6"/><text class="ed" x="117" y="26.5">E</text><text class="ed n" x="133" y="26.5">1</text><text class="ed" x="117" y="34.5">D</text><text class="ed n" x="133" y="34.5">3</text></g>
<g id="n3-6-1" transform="translate(395,623)"><rect class="sh" x="2" y="1" width="151" height="43"/><rect class="g" width="151" height="42"/><use href="#dmd"/><text class="t" x="20" y="10">3.6.1.Formalización<tspan x="20" y="19">legal para tatuar</tspan></text><rect class="bar" x="3" y="21" width="9" height="6"/><rect class="bar" x="3" y="29" width="15" height="6"/><text class="ed" x="131" y="26.5">E</text><text class="ed n" x="147" y="26.5">1</text><text class="ed" x="131" y="34.5">D</text><text class="ed n" x="147" y="34.5">3</text></g>
<g id="n3-6-2-2" transform="translate(364,719)"><rect class="sh" x="2" y="1" width="143" height="40"/><rect class="g" width="143" height="39"/><use href="#dmd"/><text class="t" x="20" y="10">3.6.2.2.Tatuaba en<tspan x="20" y="19">hospedajes</tspan></text><rect class="bar" x="3" y="21" width="9" height="6"/><rect class="bar" x="3" y="29" width="6" height="6"/><text class="ed" x="123" y="26.5">E</text><text class="ed n" x="139" y="26.5">1</text><text class="ed" x="123" y="34.5">D</text><text class="ed n" x="139" y="34.5">1</text></g>
<g id="n3-6-2-1" transform="translate(363,788)"><rect class="sh" x="2" y="1" width="136" height="39"/><rect class="g" width="136" height="38"/><use href="#dmd"/><text class="t" x="20" y="10">3.6.2.1.Alquiló un<tspan x="20" y="19">local sin permiso</tspan></text><rect class="bar" x="3" y="21" width="20" height="6"/><rect class="bar" x="3" y="29" width="6" height="6"/><text class="ed" x="116" y="26.5">E</text><text class="ed n" x="132" y="26.5">2</text><text class="ed" x="116" y="34.5">D</text><text class="ed n" x="132" y="34.5">1</text></g>
<g id="n3-6-1-2" transform="translate(178,658)"><rect class="sh" x="2" y="1" width="137" height="41"/><rect class="g" width="137" height="40"/><use href="#dmd"/><text class="t" x="20" y="10">3.6.1.2. Permisos<tspan x="20" y="19">municipales</tspan></text><rect class="bar" x="3" y="21" width="9" height="6"/><rect class="bar" x="3" y="29" width="6" height="6"/><text class="ed" x="117" y="26.5">E</text><text class="ed n" x="133" y="26.5">1</text><text class="ed" x="117" y="34.5">D</text><text class="ed n" x="133" y="34.5">1</text></g>
<g id="n3-6-1-1" transform="translate(181,705)"><rect class="sh" x="2" y="1" width="155" height="49"/><rect class="g" width="155" height="48"/><use href="#dmd"/><text class="t" x="20" y="10">3.6.1.1. Persona natural<tspan x="20" y="19">con negocio</tspan></text><rect class="bar" x="3" y="22" width="9" height="7"/><rect class="bar" x="3" y="31" width="6" height="7"/><text class="ed" x="135" y="28.5">E</text><text class="ed n" x="151" y="28.5">1</text><text class="ed" x="135" y="37.5">D</text><text class="ed n" x="151" y="37.5">1</text></g>
<g id="n3-5-2-1" transform="translate(41,593)"><rect class="sh" x="2" y="1" width="166" height="41"/><rect class="g" width="166" height="40"/><use href="#dmd"/><text class="t" x="20" y="10">3.5.2.1. Limpieza e higiene</text><rect class="bar" x="3" y="13" width="9" height="8"/><rect class="bar" x="3" y="23" width="6" height="8"/><text class="ed" x="146" y="20.5">E</text><text class="ed n" x="162" y="20.5">1</text><text class="ed" x="146" y="30.5">D</text><text class="ed n" x="162" y="30.5">1</text></g>
<g id="n3-5-2" transform="translate(253,550)"><rect class="sh" x="2" y="1" width="142" height="40"/><rect class="g" width="142" height="39"/><use href="#dmd"/><text class="t" x="20" y="10">3.5.2.Sentimiento de<tspan x="20" y="19">confianza</tspan></text><rect class="bar" x="3" y="21" width="20" height="6"/><rect class="bar" x="3" y="29" width="11" height="6"/><text class="ed" x="122" y="26.5">E</text><text class="ed n" x="138" y="26.5">2</text><text class="ed" x="122" y="34.5">D</text><text class="ed n" x="138" y="34.5">2</text></g>
<g id="n3-5-1" transform="translate(406,557)"><rect class="sh" x="2" y="1" width="140" height="41"/><rect class="g" width="140" height="40"/><use href="#dmd"/><text class="t" x="20" y="10">3.5.1.Profesionalismo</text><rect class="bar" x="3" y="13" width="9" height="8"/><rect class="bar" x="3" y="23" width="6" height="8"/><text class="ed" x="120" y="20.5">E</text><text class="ed n" x="136" y="20.5">1</text><text class="ed" x="120" y="30.5">D</text><text class="ed n" x="136" y="30.5">1</text></g>
<g id="n3-4-2-1" transform="translate(72,531)"><rect class="sh" x="2" y="1" width="126" height="40"/><rect class="g" width="126" height="39"/><use href="#dmd"/><text class="t" x="20" y="10">3.4.2.1.Arte Gótico</text><rect class="bar" x="3" y="13" width="9" height="8"/><rect class="bar" x="3" y="23" width="6" height="8"/><text class="ed" x="106" y="20.5">E</text><text class="ed n" x="122" y="20.5">1</text><text class="ed" x="106" y="30.5">D</text><text class="ed n" x="122" y="30.5">1</text></g>
<g id="n3-4-1" transform="translate(129,486)"><rect class="sh" x="2" y="1" width="144" height="40"/><rect class="g" width="144" height="39"/><use href="#dmd"/><text class="t" x="20" y="10">3.4.1.Todos los estilos</text><rect class="bar" x="3" y="13" width="20" height="8"/><rect class="bar" x="3" y="23" width="6" height="8"/><text class="ed" x="124" y="20.5">E</text><text class="ed n" x="140" y="20.5">2</text><text class="ed" x="124" y="30.5">D</text><text class="ed n" x="140" y="30.5">1</text></g>
<g id="n3-4-2" transform="translate(312,493)"><rect class="sh" x="2" y="1" width="176" height="38"/><rect class="g" width="176" height="37"/><use href="#dmd"/><text class="t" x="20" y="10">3.4.2.Estilo black and grey</text><rect class="bar" x="3" y="13" width="20" height="8"/><rect class="bar" x="3" y="23" width="11" height="8"/><text class="ed" x="156" y="20.5">E</text><text class="ed n" x="172" y="20.5">2</text><text class="ed" x="156" y="30.5">D</text><text class="ed n" x="172" y="30.5">2</text></g>
<g id="n3-3-4" transform="translate(28,438)"><rect class="sh" x="2" y="1" width="144" height="37"/><rect class="g" width="144" height="36"/><use href="#dmd"/><text class="t" x="20" y="10">3.3.4.Forma de vida</text><rect class="bar" x="3" y="13" width="9" height="8"/><rect class="bar" x="3" y="23" width="6" height="8"/><text class="ed" x="124" y="20.5">E</text><text class="ed n" x="140" y="20.5">1</text><text class="ed" x="124" y="30.5">D</text><text class="ed n" x="140" y="30.5">1</text></g>
<g id="n3-3-5" transform="translate(204,436)"><rect class="sh" x="2" y="1" width="124" height="41"/><rect class="g" width="124" height="40"/><use href="#dmd"/><text class="t" x="20" y="10">3.3.5.Práctica<tspan x="20" y="19">normal</tspan></text><rect class="bar" x="3" y="21" width="9" height="6"/><rect class="bar" x="3" y="29" width="6" height="6"/><text class="ed" x="104" y="26.5">E</text><text class="ed n" x="120" y="26.5">1</text><text class="ed" x="104" y="34.5">D</text><text class="ed n" x="120" y="34.5">1</text></g>
<g id="n3-3-3" transform="translate(37,376)"><rect class="sh" x="2" y="1" width="133" height="36"/><rect class="g" width="133" height="35"/><use href="#dmd"/><text class="t" x="20" y="10">3.3.3.Simbolismo</text><rect class="bar" x="3" y="13" width="20" height="8"/><rect class="bar" x="3" y="23" width="6" height="8"/><text class="ed" x="113" y="20.5">E</text><text class="ed n" x="129" y="20.5">2</text><text class="ed" x="113" y="30.5">D</text><text class="ed n" x="129" y="30.5">1</text></g>
<g id="n3-3-2" transform="translate(181,390)"><rect class="sh" x="2" y="1" width="111" height="40"/><rect class="g" width="111" height="39"/><use href="#dmd"/><text class="t" x="20" y="10">3.3.2.Cultura<tspan x="20" y="19">ancestral</tspan></text><rect class="bar" x="3" y="21" width="9" height="6"/><rect class="bar" x="3" y="29" width="6" height="6"/><text class="ed" x="91" y="26.5">E</text><text class="ed n" x="107" y="26.5">1</text><text class="ed" x="91" y="34.5">D</text><text class="ed n" x="107" y="34.5">1</text></g>
<g id="n3-3-1" transform="translate(262,334)"><rect class="sh" x="2" y="1" width="107" height="41"/><rect class="g" width="107" height="40"/><use href="#dmd"/><text class="t" x="20" y="10">3.3.1.Identidad</text><rect class="bar" x="3" y="13" width="9" height="8"/><rect class="bar" x="3" y="23" width="6" height="8"/><text class="ed" x="87" y="20.5">E</text><text class="ed n" x="103" y="20.5">1</text><text class="ed" x="87" y="30.5">D</text><text class="ed n" x="103" y="30.5">1</text></g>
<g id="n3-2-2-1" transform="translate(12,327)"><rect class="sh" x="2" y="1" width="156" height="40"/><rect class="g" width="156" height="39"/><use href="#dmd"/><text class="t" x="20" y="10">3.2.2.1.Proceso a traves<tspan x="20" y="19">de redes sociales</tspan></text><rect class="bar" x="3" y="21" width="9" height="6"/><rect class="bar" x="3" y="29" width="6" height="6"/><text class="ed" x="136" y="26.5">E</text><text class="ed n" x="152" y="26.5">1</text><text class="ed" x="136" y="34.5">D</text><text class="ed n" x="152" y="34.5">1</text></g>
<g id="n3-2-2" transform="translate(186,280)"><rect class="sh" x="2" y="1" width="161" height="35"/><rect class="g" width="161" height="34"/><use href="#dmd"/><text class="t" x="20" y="10">3.2.2.Proceso empirico</text><rect class="bar" x="3" y="13" width="20" height="7"/><rect class="bar" x="3" y="22" width="11" height="7"/><text class="ed" x="141" y="19.5">E</text><text class="ed n" x="157" y="19.5">2</text><text class="ed" x="141" y="28.5">D</text><text class="ed n" x="157" y="28.5">2</text></g>
<g id="n3-2-1" transform="translate(356,258)"><rect class="sh" x="2" y="1" width="166" height="38"/><rect class="g" width="166" height="37"/><use href="#dmd"/><text class="t" x="20" y="10">3.2.1.Proceso académico</text><rect class="bar" x="3" y="13" width="9" height="8"/><rect class="bar" x="3" y="23" width="6" height="8"/><text class="ed" x="146" y="20.5">E</text><text class="ed n" x="162" y="20.5">1</text><text class="ed" x="146" y="30.5">D</text><text class="ed n" x="162" y="30.5">1</text></g>
<g id="n3-1-3" transform="translate(100,122)"><rect class="sh" x="2" y="1" width="174" height="40"/><rect class="g" width="174" height="39"/><use href="#dmd"/><text class="t" x="20" y="10">3.1.3.Inicio en la secundaria</text><rect class="bar" x="3" y="13" width="9" height="8"/><rect class="bar" x="3" y="23" width="6" height="8"/><text class="ed" x="154" y="20.5">E</text><text class="ed n" x="170" y="20.5">1</text><text class="ed" x="154" y="30.5">D</text><text class="ed n" x="170" y="30.5">1</text></g>
<g id="n3-1-1" transform="translate(186,178)"><rect class="sh" x="2" y="1" width="163" height="41"/><rect class="g" width="163" height="40"/><use href="#dmd"/><text class="t" x="20" y="10">3.1.1.Influencia de amigos</text><rect class="bar" x="3" y="13" width="20" height="8"/><rect class="bar" x="3" y="23" width="6" height="8"/><text class="ed" x="143" y="20.5">E</text><text class="ed n" x="159" y="20.5">2</text><text class="ed" x="143" y="30.5">D</text><text class="ed n" x="159" y="30.5">1</text></g>
<g id="n3-1-2" transform="translate(83,227)"><rect class="sh" x="2" y="1" width="156" height="40"/><rect class="g" width="156" height="39"/><use href="#dmd"/><text class="t" x="20" y="10">3.1.2.Inicio a los 16 años</text><rect class="bar" x="3" y="13" width="9" height="8"/><rect class="bar" x="3" y="23" width="6" height="8"/><text class="ed" x="136" y="20.5">E</text><text class="ed n" x="152" y="20.5">1</text><text class="ed" x="136" y="30.5">D</text><text class="ed n" x="152" y="30.5">1</text></g>

<g id="n3-14" transform="translate(537,112)"><rect class="sh" x="2" y="2" width="175" height="49"/><rect class="b" width="175" height="49"/><use href="#dmd"/><text class="t tb" x="20" y="10">3.14.Actividades alternativas<tspan x="20" y="19.5">que desarrollan los</tspan><tspan x="20" y="29">tatuadores</tspan></text><rect class="bar" x="3" y="32" width="12" height="6"/><rect class="bar" x="3" y="40" width="35" height="6"/><text class="ed" x="151" y="37.5">E</text><text class="ed n" x="168" y="37.5">1</text><text class="ed" x="151" y="45.5">D</text><text class="ed n" x="168" y="45.5">5</text></g>
<g id="n3-1" transform="translate(464,197)"><rect class="sh" x="2" y="2" width="198" height="43"/><rect class="b" width="198" height="43"/><use href="#dmd"/><text class="t tb" x="20" y="10">3.1.Inclinación al tatuaje como<tspan x="20" y="19.5">profesión</tspan></text><rect class="bar" x="3" y="23" width="13" height="7"/><rect class="bar" x="3" y="32" width="40" height="7"/><text class="ed" x="174" y="29.5">E</text><text class="ed n" x="191" y="29.5">1</text><text class="ed" x="174" y="38.5">D</text><text class="ed n" x="191" y="38.5">5</text></g>
<g id="n3-13" transform="translate(707,192)"><rect class="sh" x="2" y="2" width="146" height="41"/><rect class="b" width="146" height="41"/><use href="#dmd"/><text class="t tb" x="20" y="10">3.13.El tatuaje a futuro</text><rect class="bar" x="3" y="16" width="10" height="7"/><rect class="bar" x="3" y="25" width="37" height="7"/><text class="ed" x="122" y="22.5">E</text><text class="ed n" x="139" y="22.5">1</text><text class="ed" x="122" y="31.5">D</text><text class="ed n" x="139" y="31.5">6</text></g>
<g id="n3-12" transform="translate(910,215)"><rect class="sh" x="2" y="2" width="208" height="43"/><rect class="b" width="208" height="43"/><use href="#dmd"/><text class="t tb" x="20" y="10">3.12.Expectativas como tatuador a<tspan x="20" y="19.5">futuro</tspan></text><rect class="bar" x="3" y="23" width="15" height="7"/><rect class="bar" x="3" y="32" width="44" height="7"/><text class="ed" x="184" y="29.5">E</text><text class="ed n" x="201" y="29.5">1</text><text class="ed" x="184" y="38.5">D</text><text class="ed n" x="201" y="38.5">5</text></g>
<g id="n3-11" transform="translate(964,285)"><rect class="sh" x="2" y="2" width="214" height="42"/><rect class="b" width="214" height="42"/><use href="#dmd"/><text class="t tb" x="20" y="10">3.11.Influencia sociolaboral de los<tspan x="20" y="19.5">tatuajes en los jóvenes</tspan></text><rect class="bar" x="3" y="23" width="13" height="6"/><rect class="bar" x="3" y="31" width="52" height="6"/><text class="ed" x="190" y="28.5">E</text><text class="ed n" x="207" y="28.5">1</text><text class="ed" x="190" y="36.5">D</text><text class="ed n" x="207" y="36.5">5</text></g>
<g id="n3-10" transform="translate(986,358)"><rect class="sh" x="2" y="2" width="192" height="45"/><rect class="b" width="192" height="45"/><use href="#dmd"/><text class="t tb" x="20" y="10">3.10.Desarrollo del tatuaje en<tspan x="20" y="19.5">Chachapoyas</tspan></text><rect class="bar" x="3" y="24" width="13" height="7"/><rect class="bar" x="3" y="33" width="55" height="8"/><text class="ed" x="168" y="30.5">E</text><text class="ed n" x="185" y="30.5">1</text><text class="ed" x="168" y="40.5">D</text><text class="ed n" x="185" y="40.5">7</text></g>
<g id="n3-9" transform="translate(1000,438)"><rect class="sh" x="2" y="2" width="191" height="42"/><rect class="b" width="191" height="42"/><use href="#dmd"/><text class="t tb" x="20" y="10">3.9.Tipos de personas que se<tspan x="20" y="19.5">tatúan</tspan></text><rect class="bar" x="3" y="23" width="13" height="6"/><rect class="bar" x="3" y="31" width="49" height="6"/><text class="ed" x="167" y="28.5">E</text><text class="ed n" x="184" y="28.5">1</text><text class="ed" x="167" y="36.5">D</text><text class="ed n" x="184" y="36.5">6</text></g>
<g id="n3-8" transform="translate(983,683)"><rect class="sh" x="2" y="2" width="205" height="50"/><rect class="b" width="205" height="50"/><use href="#dmd"/><text class="t tb" x="20" y="10">3.8.Representación de los jóvenes<tspan x="20" y="19.5">en los tatuajes</tspan></text><rect class="bar" x="3" y="24" width="13" height="8"/><rect class="bar" x="3" y="34" width="50" height="8"/><text class="ed" x="181" y="31">E</text><text class="ed n" x="198" y="31">1</text><text class="ed" x="181" y="41">D</text><text class="ed n" x="198" y="41">6</text></g>
<g id="n3-7" transform="translate(763,648)"><rect class="sh" x="2" y="2" width="174" height="50"/><rect class="b" width="174" height="50"/><use href="#dmd"/><text class="t tb" x="20" y="10">3.7.Estilos que se tatúan los<tspan x="20" y="19.5">jóvenes</tspan></text><rect class="bar" x="3" y="24" width="12" height="8"/><rect class="bar" x="3" y="34" width="52" height="8"/><text class="ed" x="150" y="31">E</text><text class="ed n" x="167" y="31">1</text><text class="ed" x="150" y="41">D</text><text class="ed n" x="167" y="41">7</text></g>
<g id="n3-6" transform="translate(600,579)"><rect class="sh" x="2" y="2" width="162" height="43"/><rect class="b" width="162" height="43"/><use href="#dmd"/><text class="t tb" x="20" y="10">3.6.Proceso para un<tspan x="20" y="19.5">estudio de tatuajes</tspan></text><rect class="bar" x="3" y="23" width="10" height="7"/><rect class="bar" x="3" y="32" width="18" height="7"/><text class="ed" x="138" y="29.5">E</text><text class="ed n" x="155" y="29.5">1</text><text class="ed" x="138" y="38.5">D</text><text class="ed n" x="155" y="38.5">3</text></g>
<g id="n3-5" transform="translate(599,481)"><rect class="sh" x="2" y="2" width="144" height="43"/><rect class="b" width="144" height="43"/><use href="#dmd"/><text class="t tb" x="20" y="10">3.5.Expresión del<tspan x="20" y="19.5">tatuaje a clientes</tspan></text><rect class="bar" x="3" y="23" width="10" height="7"/><rect class="bar" x="3" y="32" width="18" height="7"/><text class="ed" x="120" y="29.5">E</text><text class="ed n" x="137" y="29.5">1</text><text class="ed" x="120" y="38.5">D</text><text class="ed n" x="137" y="38.5">3</text></g>
<g id="n3-4" transform="translate(538,429)"><rect class="sh" x="2" y="2" width="145" height="40"/><rect class="b" width="145" height="40"/><use href="#dmd"/><text class="t tb" x="20" y="10">3.4.Estilos de tatuajes<tspan x="20" y="19.5">que realiza</tspan></text><rect class="bar" x="3" y="23" width="10" height="6"/><rect class="bar" x="3" y="31" width="17" height="6"/><text class="ed" x="121" y="28.5">E</text><text class="ed n" x="138" y="28.5">1</text><text class="ed" x="121" y="36.5">D</text><text class="ed n" x="138" y="36.5">3</text></g>
<g id="n3-3" transform="translate(469,382)"><rect class="sh" x="2" y="2" width="159" height="42"/><rect class="b" width="159" height="42"/><use href="#dmd"/><text class="t tb" x="20" y="10">3.3.Opinión sobre la<tspan x="20" y="19.5">práctica del tatuaje</tspan></text><rect class="bar" x="3" y="23" width="10" height="6"/><rect class="bar" x="3" y="31" width="39" height="6"/><text class="ed" x="135" y="28.5">E</text><text class="ed n" x="152" y="28.5">1</text><text class="ed" x="135" y="36.5">D</text><text class="ed n" x="152" y="36.5">6</text></g>
<g id="n3-2" transform="translate(466,319)"><rect class="sh" x="2" y="2" width="167" height="50"/><rect class="b" width="167" height="50"/><use href="#dmd"/><text class="t tb" x="20" y="10">3.2.Proceso de aprendizaje<tspan x="20" y="19.5">como tatuador</tspan></text><rect class="bar" x="3" y="24" width="11" height="8"/><rect class="bar" x="3" y="34" width="28" height="8"/><text class="ed" x="143" y="31">E</text><text class="ed n" x="160" y="31">1</text><text class="ed" x="143" y="41">D</text><text class="ed n" x="160" y="41">4</text></g>

<g id="center-III" transform="translate(710,341)"><rect class="sh" x="2" y="2" width="208" height="67"/><rect class="p" width="208" height="67"/><use href="#dmd" transform="translate(0,1)"/><text class="t tb" x="20" y="11">III. Diferencias en la aceptación de<tspan x="20" y="20.5">los tatuajes según género, nivel</tspan><tspan x="20" y="30">socioeconómico y contexto cultural</tspan></text><rect class="bar" x="3" y="42" width="121" height="8"/><text class="ed" x="180" y="39">E</text><text class="ed n" x="200" y="39">0</text><text class="ed" x="180" y="49">D</text><text class="ed n" x="201" y="49">14</text></g>
</svg>
